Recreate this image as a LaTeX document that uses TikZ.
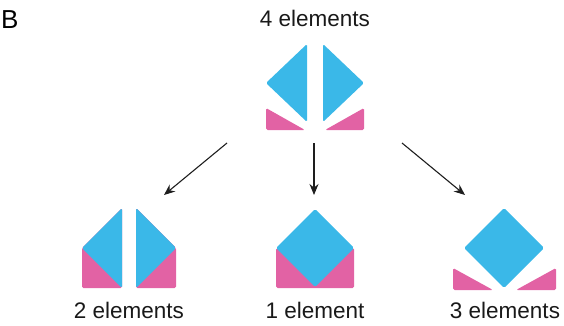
\documentclass[tikz,border=0pt]{standalone}
\usepackage{fontspec}
\setmainfont{Liberation Sans}
\usetikzlibrary{arrows.meta}
\definecolor{myblue}{RGB}{58,184,232}
\definecolor{mypink}{RGB}{226,98,164}
\definecolor{myarrow}{RGB}{30,30,30}
\tikzset{
  blueshape/.style={fill=myblue, rounded corners=1.5pt},
  pinkshape/.style={fill=mypink, rounded corners=1.5pt},
  lbl/.style={font=\fontsize{22.5}{27}\selectfont, anchor=base, inner sep=0pt, text=black!90},
  arr/.style={draw=myarrow, line width=1.1pt, -{Stealth[length=11pt,width=9pt]}}
}
\begin{document}
\begin{tikzpicture}[x=1pt,y=-1pt]
\useasboundingbox (0,0) rectangle (564,326);
% panel letter
\node[font=\fontsize{26}{30}\selectfont, anchor=base west, inner sep=0pt] (letter) at (1,29) {B};
% top: 4 elements
\node[lbl] (t4) at (315,27) {4 elements};
\path[blueshape] (307,44) -- (266,83) -- (307,122) -- cycle;
\path[blueshape] (323,44) -- (364,83) -- (323,122) -- cycle;
\path[pinkshape] (266,108) -- (266,130) -- (305,130) -- cycle;
\path[pinkshape] (364,108) -- (364,130) -- (325,130) -- cycle;
% bottom left: 2 elements
\path[pinkshape] (122,208) -- (82,248) -- (82,288) -- (122,288) -- cycle;
\path[blueshape] (122,208) -- (82,248) -- (122,288) -- cycle;
\path[pinkshape] (136,208) -- (176,248) -- (176,288) -- (136,288) -- cycle;
\path[blueshape] (136,208) -- (176,248) -- (136,288) -- cycle;
\node[lbl] (t2) at (129,318) {2 elements};
% bottom middle: 1 element
\path[pinkshape] (276,248) rectangle (354,288);
\path[blueshape] (315,209) -- (354,248) -- (315,287) -- (276,248) -- cycle;
\node[lbl] (t1) at (315,318) {1 element};
% bottom right: 3 elements
\path[blueshape] (504,208) -- (544,248) -- (504,288) -- (464,248) -- cycle;
\path[pinkshape] (453,268) -- (453,290) -- (493,290) -- cycle;
\path[pinkshape] (556,268) -- (556,290) -- (516,290) -- cycle;
\node[lbl] (t3) at (505,318) {3 elements};
% arrows
\coordinate (aLs) at (227,143);
\coordinate (aLe) at (164,195);
\coordinate (aMs) at (314,143);
\coordinate (aMe) at (314,195);
\coordinate (aRs) at (402,143);
\coordinate (aRe) at (465,195);
\draw[arr] (aLs) -- (aLe);
\draw[arr] (aMs) -- (aMe);
\draw[arr] (aRs) -- (aRe);
\end{tikzpicture}
\end{document}
